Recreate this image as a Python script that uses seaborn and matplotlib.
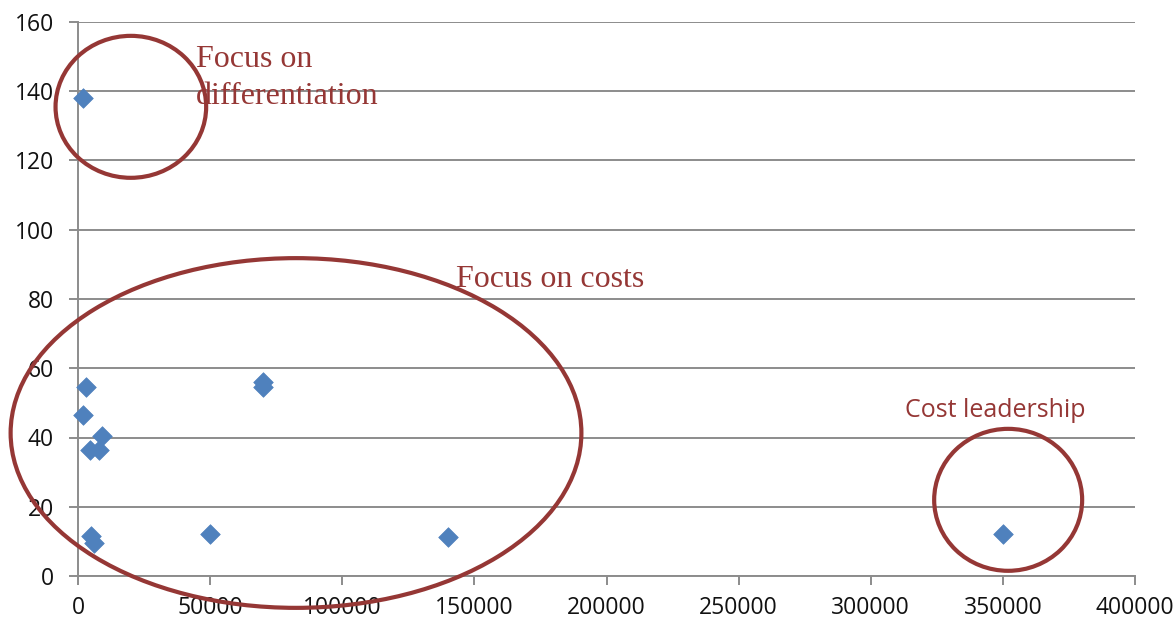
import matplotlib
matplotlib.use("Agg")
import matplotlib.pyplot as plt
from matplotlib.patches import Ellipse
import seaborn as sns
import pandas as pd

# Firm observations: scale of output vs. price level
volume = [2000, 3000, 2000, 4500, 8000, 9000, 5000, 6000,
          50000, 70000, 70000, 140000, 350000]
price = [138, 54.5, 46.5, 36.5, 36.5, 40.5, 11.5, 9.5,
         12, 56, 54.5, 11.3, 12]

# Strategy groups outlined on the chart: (label, centre x, centre y, width, height)
group_names = ["Focus on\ndifferentiation", "Focus on costs", "Cost leadership"]
group_centre_x = [20000, 82500, 352000]
group_centre_y = [135.5, 41.3, 22]
group_width = [57000, 216000, 56000]
group_height = [41, 101, 41]

x_ticks = [0, 50000, 100000, 150000, 200000, 250000, 300000, 350000, 400000]
y_ticks = [0, 20, 40, 60, 80, 100, 120, 140, 160]

sns.set_theme(style="white")
plt.rcParams["font.family"] = ["Open Sans", "DejaVu Sans"]

df = pd.DataFrame({"volume": volume, "price": price})

fig = plt.figure(figsize=(11.76, 6.21), dpi=100)
ax = fig.add_axes([78 / 1176, 1 - 576 / 621, (1135 - 78) / 1176, (576 - 22) / 621])

grid_col = "#8c8c8c"
accent = "#953735"

sns.scatterplot(data=df, x="volume", y="price", marker="D", s=100,
                color="#4f81bd", edgecolor="#4f81bd", linewidth=0.5,
                ax=ax, zorder=3, clip_on=False)

ax.set_xlim(0, 400000)
ax.set_ylim(0, 160)
ax.set_xticks(x_ticks)
ax.set_yticks(y_ticks)
ax.set_xticklabels([str(v) for v in x_ticks])
ax.set_yticklabels([str(v) for v in y_ticks])
ax.set_xlabel("")
ax.set_ylabel("")

ax.yaxis.grid(True, color=grid_col, linewidth=1.4)
ax.xaxis.grid(False)
ax.set_axisbelow(True)

for side in ["top", "right"]:
    ax.spines[side].set_visible(False)
for side in ["left", "bottom"]:
    ax.spines[side].set_color(grid_col)
    ax.spines[side].set_linewidth(1.4)

ax.tick_params(axis="both", which="major", direction="out", length=6.5,
               width=1.4, color=grid_col, labelsize=16.5, labelcolor="#111111",
               left=True, bottom=True)
ax.tick_params(axis="y", pad=11)
ax.tick_params(axis="x", pad=8)

for cx, cy, w, h in zip(group_centre_x, group_centre_y, group_width, group_height):
    ax.add_patch(Ellipse((cx, cy), w, h, fill=False, edgecolor=accent,
                         linewidth=3.0, zorder=4, clip_on=False))

serif = ["Liberation Serif", "DejaVu Serif"]
ax.text(44650, 153.5, group_names[0], family=serif, fontsize=23, color=accent,
        va="top", ha="left", linespacing=1.37, zorder=5)
ax.text(143000, 83.5, group_names[1], family=serif, fontsize=23, color=accent,
        va="baseline", ha="left", zorder=5)
ax.text(313000, 45.9, group_names[2], fontsize=18, color=accent,
        va="baseline", ha="left", zorder=5)

fig.savefig("out.png", dpi=100)
